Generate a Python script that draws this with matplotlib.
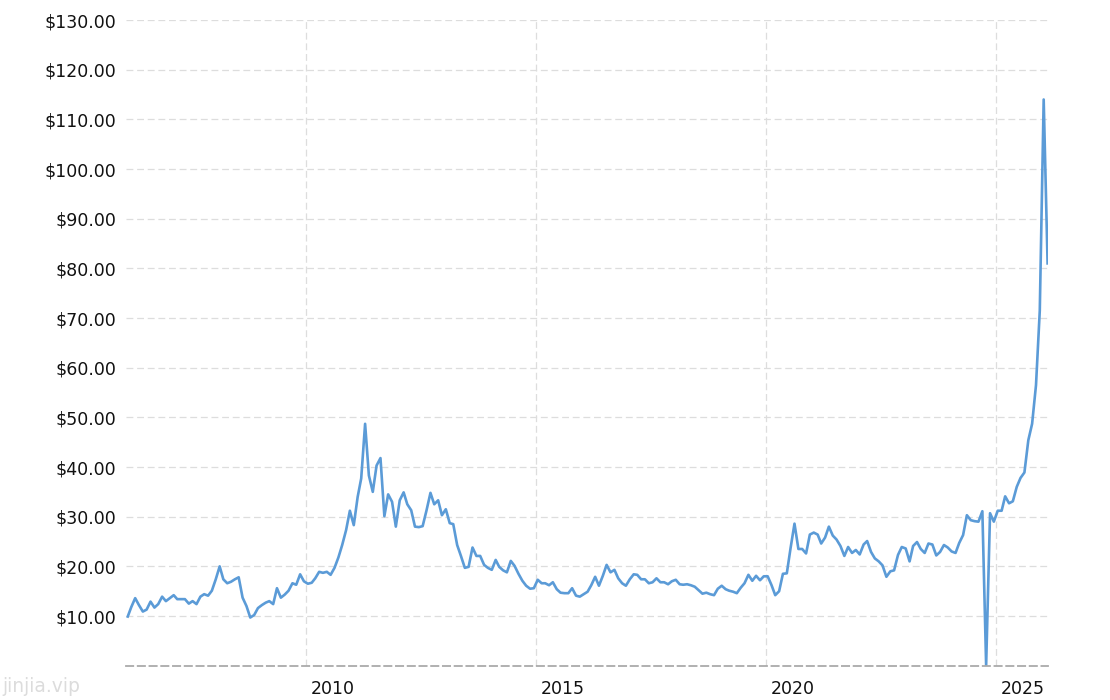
import matplotlib
matplotlib.use("Agg")
import matplotlib.pyplot as plt
import matplotlib.dates as mdates
from matplotlib.transforms import ScaledTranslation
import pandas as pd

# monthly price, Feb 2006 .. Feb 2026
prices = [
    9.9, 11.8, 13.6, 12.2, 10.9, 11.3, 12.9, 11.7, 12.4, 13.9,
    13.0, 13.6, 14.2, 13.4, 13.4, 13.4, 12.5, 13.0, 12.4, 13.9,
    14.4, 14.1, 15.1, 17.4, 20.0, 17.4, 16.6, 16.9, 17.4, 17.8,
    13.7, 12.0, 9.7, 10.2, 11.6, 12.2, 12.7, 13.0, 12.4, 15.6,
    13.7, 14.3, 15.1, 16.6, 16.3, 18.4, 17.0, 16.5, 16.7, 17.6,
    18.9, 18.7, 18.9, 18.3, 19.7, 21.8, 24.3, 27.3, 31.2, 28.3,
    34.0, 37.7, 48.7, 38.3, 35.0, 40.3, 41.8, 30.1, 34.5, 33.0,
    28.0, 33.3, 34.9, 32.5, 31.3, 28.0, 27.9, 28.1, 31.3, 34.8,
    32.5, 33.3, 30.3, 31.5, 28.7, 28.5, 24.3, 22.1, 19.7, 19.9,
    23.8, 22.1, 22.1, 20.3, 19.7, 19.3, 21.3, 19.9, 19.2, 18.8,
    21.1, 20.1, 18.5, 17.1, 16.1, 15.5, 15.6, 17.3, 16.6, 16.6,
    16.2, 16.8, 15.4, 14.7, 14.6, 14.6, 15.6, 14.1, 13.9, 14.4,
    14.9, 16.2, 17.9, 16.1, 18.1, 20.3, 18.8, 19.3, 17.6, 16.6,
    16.1, 17.4, 18.4, 18.3, 17.4, 17.4, 16.6, 16.8, 17.6, 16.8,
    16.8, 16.4, 17.0, 17.3, 16.4, 16.3, 16.4, 16.2, 15.9, 15.2,
    14.5, 14.7, 14.4, 14.2, 15.5, 16.1, 15.4, 15.1, 14.9, 14.6,
    15.7, 16.6, 18.3, 17.1, 18.1, 17.2, 18.0, 18.0, 16.2, 14.2,
    15.0, 18.5, 18.6, 23.7, 28.6, 23.5, 23.5, 22.6, 26.4, 26.8,
    26.4, 24.6, 25.8, 28.0, 26.2, 25.4, 24.1, 22.1, 23.9, 22.7,
    23.3, 22.4, 24.4, 25.1, 22.9, 21.6, 21.0, 20.2, 17.9, 19.0,
    19.2, 22.3, 23.9, 23.6, 21.0, 24.1, 24.9, 23.5, 22.7, 24.6,
    24.4, 22.2, 22.9, 24.3, 23.8, 23.0, 22.7, 24.7, 26.3, 30.3,
    29.3, 29.1, 29.0, 31.1, 0.0, 30.7, 29.0, 31.2, 31.2, 34.1,
    32.7, 33.1, 36.0, 37.8, 38.9, 45.4, 48.7, 56.5, 71.5, 114.0,
    81.0,
]
dates = pd.date_range("2006-02-01", periods=len(prices), freq="MS") + pd.Timedelta(days=14)

year_ticks = [2010, 2015, 2020, 2025]
price_ticks = list(range(10, 131, 10))

fig = plt.figure(figsize=(11.1, 7), dpi=100)
ax = fig.add_axes([0.1135, 0.049, 0.8305, 0.9224])

ax.plot(dates, prices, color="#5b9bd7", linewidth=1.9, solid_joinstyle="round")

ax.set_ylim(0, 130)
ax.set_xlim(pd.Timestamp("2006-02-01"), pd.Timestamp("2026-02-17"))

ax.set_yticks(price_ticks)
ax.set_yticklabels([f"${v:.2f}" for v in price_ticks])
ax.set_xticks([pd.Timestamp(f"{y}-01-01") for y in year_ticks])
ax.xaxis.set_major_formatter(mdates.DateFormatter("%Y"))

ax.grid(True, color="#dddddd", linestyle=(0, (5.5, 3)), linewidth=0.9)
ax.set_axisbelow(True)

for s in ["top", "right", "left"]:
    ax.spines[s].set_visible(False)
ax.spines["bottom"].set_color("#aaaaaa")
ax.spines["bottom"].set_linestyle((0, (4, 2.5)))
ax.spines["bottom"].set_linewidth(1.3)

ax.tick_params(axis="both", length=0, labelsize=12.5, labelcolor="#111111")
ax.tick_params(axis="y", pad=7)
ax.tick_params(axis="x", pad=10)

offset = ScaledTranslation(5 / 100, 0, fig.dpi_scale_trans)
for lbl in ax.get_xticklabels():
    lbl.set_horizontalalignment("left")
    lbl.set_transform(lbl.get_transform() + offset)

fig.text(0.002, 0.011, "jinjia.vip", fontsize=13.5, color="#dcdcdc", ha="left", va="baseline")

fig.savefig("out.png", dpi=100)
